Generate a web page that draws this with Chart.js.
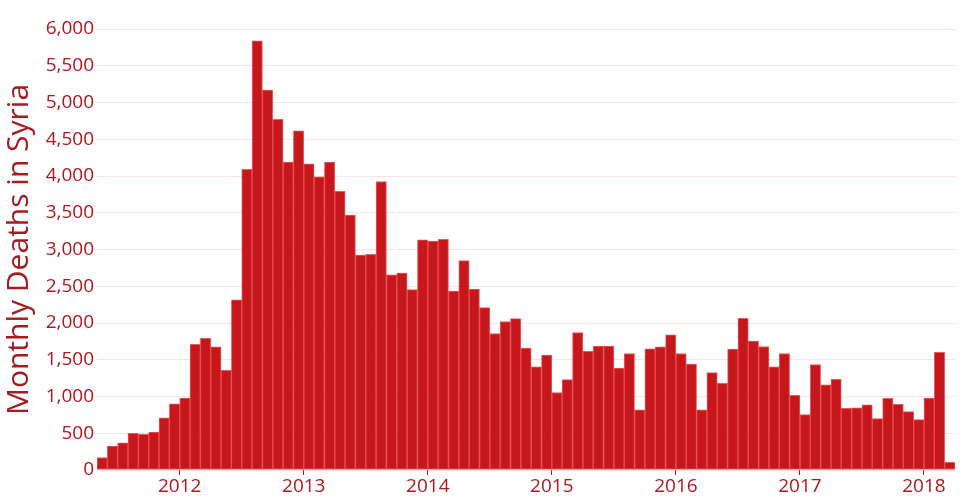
<!DOCTYPE html>
<html>
<head>
<meta charset="utf-8">
<script src="https://cdn.jsdelivr.net/npm/chart.js@4.4.1/dist/chart.umd.min.js"></script>
<style>
  html, body { margin: 0; padding: 0; background: #fff; }
  #wrap { width: 960px; height: 500px; }
</style>
</head>
<body>
<div id="wrap"><canvas id="chart"></canvas></div>
<script>
// Months covered, May 2011 .. Mar 2018
const months = [
  '2011-05', '2011-06', '2011-07', '2011-08', '2011-09', '2011-10', '2011-11', '2011-12',
  '2012-01', '2012-02', '2012-03', '2012-04', '2012-05', '2012-06', '2012-07', '2012-08', '2012-09', '2012-10', '2012-11', '2012-12',
  '2013-01', '2013-02', '2013-03', '2013-04', '2013-05', '2013-06', '2013-07', '2013-08', '2013-09', '2013-10', '2013-11', '2013-12',
  '2014-01', '2014-02', '2014-03', '2014-04', '2014-05', '2014-06', '2014-07', '2014-08', '2014-09', '2014-10', '2014-11', '2014-12',
  '2015-01', '2015-02', '2015-03', '2015-04', '2015-05', '2015-06', '2015-07', '2015-08', '2015-09', '2015-10', '2015-11', '2015-12',
  '2016-01', '2016-02', '2016-03', '2016-04', '2016-05', '2016-06', '2016-07', '2016-08', '2016-09', '2016-10', '2016-11', '2016-12',
  '2017-01', '2017-02', '2017-03', '2017-04', '2017-05', '2017-06', '2017-07', '2017-08', '2017-09', '2017-10', '2017-11', '2017-12',
  '2018-01', '2018-02', '2018-03'
];

// Monthly deaths
const deaths = [
  170, 325, 370, 500, 485, 515, 710, 900,
  980, 1710, 1790, 1675, 1355, 2315, 4090, 5840, 5170, 4770, 4190, 4615,
  4165, 3990, 4190, 3790, 3470, 2925, 2935, 3925, 2655, 2680, 2455, 3130,
  3115, 3140, 2435, 2850, 2460, 2210, 1855, 2020, 2060, 1660, 1405, 1565,
  1055, 1230, 1870, 1615, 1685, 1685, 1385, 1585, 820, 1650, 1675, 1840,
  1585, 1440, 820, 1325, 1180, 1645, 2065, 1755, 1680, 1405, 1585, 1015,
  755, 1435, 1160, 1235, 840, 845, 885, 700, 975, 895, 795, 685,
  980, 1600, 105
];

const yearTicks = ['2012', '2013', '2014', '2015', '2016', '2017', '2018'];

const TEXT_RED = '#b2161e';
const TITLE_RED = '#a51b21';
const BAR_RED = '#c5171c';

// bar i covers [i, i+1] on the linear x axis, year ticks sit on January starts
const points = deaths.map((v, i) => ({ x: i + 0.5, y: v }));
const yearPos = yearTicks.map(y => months.indexOf(y + '-01'));

const ctx = document.getElementById('chart');
new Chart(ctx, {
  type: 'bar',
  data: {
    datasets: [{
      label: 'Monthly Deaths in Syria',
      data: points,
      backgroundColor: BAR_RED,
      borderColor: 'rgba(232, 34, 34, 0.75)',
      borderWidth: 1,
      borderSkipped: false,
      barPercentage: 1,
      categoryPercentage: 1
    }]
  },
  options: {
    responsive: true,
    maintainAspectRatio: false,
    animation: false,
    layout: { padding: { top: 29, right: 5, left: 0, bottom: 0 } },
    plugins: {
      legend: { display: false },
      tooltip: { enabled: false }
    },
    scales: {
      x: {
        type: 'linear',
        min: 0,
        max: months.length,
        offset: false,
        afterBuildTicks: scale => {
          scale.ticks = yearPos.map(v => ({ value: v }));
        },
        afterFit: scale => { scale.height = 30; },
        ticks: {
          color: TEXT_RED,
          font: { family: 'Open Sans', size: 19 },
          padding: 0,
          maxRotation: 0,
          autoSkip: false,
          callback: value => yearTicks[yearPos.indexOf(value)]
        },
        grid: {
          offset: false,
          drawOnChartArea: false,
          drawTicks: true,
          tickLength: 5,
          color: TEXT_RED
        },
        border: { display: false }
      },
      y: {
        min: 0,
        max: 6000,
        afterFit: scale => { scale.width = 97; },
        ticks: {
          stepSize: 500,
          color: TEXT_RED,
          font: { family: 'Open Sans', size: 19 },
          padding: 3,
          callback: value => value.toLocaleString('en-US')
        },
        grid: {
          color: 'rgba(238, 150, 165, 0.28)',
          lineWidth: 1,
          drawTicks: false
        },
        border: { display: false },
        title: {
          display: true,
          text: 'Monthly Deaths in Syria',
          color: TITLE_RED,
          font: { family: 'Open Sans', size: 30 },
          padding: { top: 1, bottom: 0 }
        }
      }
    }
  }
});
</script>
</body>
</html>
